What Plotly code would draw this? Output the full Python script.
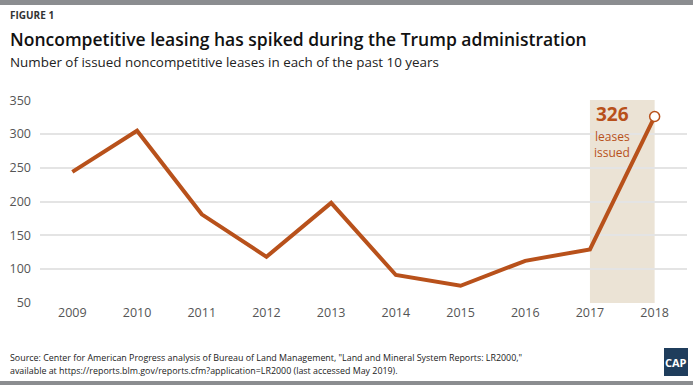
import plotly.graph_objects as go

years = [2009, 2010, 2011, 2012, 2013, 2014, 2015, 2016, 2017, 2018]
leases = [244, 305, 181, 118, 198, 91, 75, 112, 129, 326]
y_ticks = [50, 100, 150, 200, 250, 300, 350]

LINE = "#b8511b"
FONT = "Open Sans"

fig = go.Figure()

# shaded Trump-administration band
fig.add_shape(type="rect", xref="x", yref="paper", x0=2017, x1=2018, y0=0, y1=1,
              fillcolor="#ebe3d5", line_width=0, layer="below")

fig.add_trace(go.Scatter(x=years, y=leases, mode="lines",
                         line=dict(color=LINE, width=4), hoverinfo="skip"))
fig.add_trace(go.Scatter(x=[years[-1]], y=[leases[-1]], mode="markers",
                         marker=dict(color="white", size=10, line=dict(color=LINE, width=1.5)),
                         hoverinfo="skip"))

fig.update_layout(
    width=693, height=385,
    margin=dict(l=40, r=6, t=100, b=82),
    paper_bgcolor="white", plot_bgcolor="white",
    showlegend=False,
    font=dict(family=FONT, color="#555555"),
    xaxis=dict(range=[2008.5, 2018.5], tickvals=years, ticktext=[str(y) for y in years],
               showgrid=False, zeroline=False, showline=False, ticks="",
               tickfont=dict(size=12.5, color="#555555")),
    yaxis=dict(range=[49.5, 350.5], tickvals=y_ticks, showgrid=True,
               gridcolor="#e4e4e4", gridwidth=1.5, zeroline=False, ticks="",
               tickfont=dict(size=12.5, color="#555555"), ticklabelstandoff=8),
)

# top and bottom gray bars
fig.add_shape(type="rect", xref="paper", yref="paper", x0=-40/647, x1=1+6/647,
              y0=1+(100-5)/203, y1=1+100/203, fillcolor="#8b8d90", line_width=0)
fig.add_shape(type="rect", xref="paper", yref="paper", x0=-40/647, x1=1+6/647,
              y0=-(385-303)/203, y1=-(381-303)/203, fillcolor="#8b8d90", line_width=0)

def ann(text, x, y, size, color, weight="normal", xanchor="left"):
    fig.add_annotation(text=text, xref="paper", yref="paper",
                       x=(x - 40) / 647, y=(303 - y) / 203, showarrow=False,
                       xanchor=xanchor, yanchor="middle",
                       font=dict(family=FONT, size=size, color=color, weight=weight))

ann("FIGURE 1", 8, 15, 10, "#333333", "bold")
ann("Noncompetitive leasing has spiked during the Trump administration", 8, 39, 17.5, "#111111", 600)
ann("Number of issued noncompetitive leases in each of the past 10 years", 8, 62, 13.4, "#222222")
ann("Source: Center for American Progress analysis of Bureau of Land Management, \"Land and Mineral System Reports: LR2000,\"", 8, 357, 8.9, "#222222")
ann("available at https://reports.blm.gov/reports.cfm?application=LR2000 (last accessed May 2019).", 8, 370, 8.9, "#222222")

# annotation on 2018 value
ann("<b>326</b>", 612, 114, 19, LINE, xanchor="center")
ann("leases", 612, 136, 12, LINE, xanchor="center")
ann("issued", 612, 152, 12, LINE, xanchor="center")

# CAP logo
fig.add_shape(type="rect", xref="paper", yref="paper",
              x0=(664-40)/647, x1=(688-40)/647, y0=(303-376)/203, y1=(303-348)/203,
              fillcolor="#1f3d5c", line_width=0)
ann("<b>CAP</b>", 676, 362, 11, "white", xanchor="center")

fig.write_html("out.html", config={"displayModeBar": False},
               post_script="document.body.style.margin='0';")
